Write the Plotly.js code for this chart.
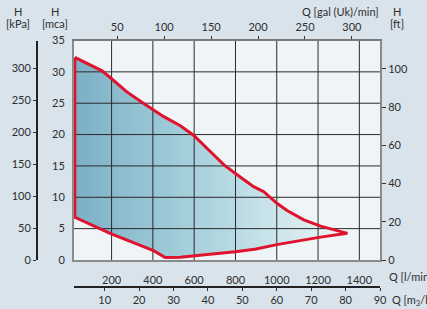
<!DOCTYPE html>
<html><head><meta charset="utf-8">
<script src="https://cdn.plot.ly/plotly-3.0.1.min.js"></script>
<style>html,body{margin:0;padding:0;background:#d8e3ec;}#c{width:427px;height:309px;}</style>
</head><body><div id="c"></div>
<script>
// Operating range outline (Q in l/min, H in mca): upper curve, then lower curve back, closed on the left edge
const Q_lmin = [22, 152, 193, 274, 354, 451, 533, 597, 678, 743, 808, 888, 937, 1002, 1050, 1131, 1212, 1342,
                1212, 1100, 1000, 900, 800, 700, 600, 532, 460, 403, 193, 22, 22];
const H_mca  = [32.3, 30.2, 29.1, 26.8, 25.0, 22.9, 21.4, 19.9, 17.3, 15.2, 13.6, 11.7, 10.9, 9.0, 7.9, 6.4, 5.4, 4.25,
                3.65, 3.05, 2.45, 1.75, 1.3, 1.0, 0.7, 0.45, 0.4, 1.48, 4.26, 6.8, 32.3];

const ticks_lmin = [200, 400, 600, 800, 1000, 1200, 1400];
const ticks_m3h  = [10, 20, 30, 40, 50, 60, 70, 80, 90];
const ticks_gal  = [50, 100, 150, 200, 250, 300];
const ticks_mca  = [0, 5, 10, 15, 20, 25, 30, 35];
const ticks_kpa  = [0, 50, 100, 150, 200, 250, 300];
const ticks_ft   = [0, 20, 40, 60, 80, 100];

const W = 427, Hh = 309;
const px = x => x / W, py = y => 1 - y / Hh;
const QMIN = 18, QMAX = 1500, HMAX = 35;
const GAL = 4.54609, KPA = 9.80665, FT = 3.28084;

// grid segments from tick arrays
const gx = [], gy = [];
ticks_lmin.forEach(v => { gx.push(v, v, null); gy.push(0, HMAX, null); });
ticks_mca.slice(1, -1).forEach(v => { gx.push(QMIN, QMAX, null); gy.push(v, v, null); });

const font = {family: 'Lato, "Noto Sans", sans-serif', size: 11, color: '#2e2e2e'};

const dummy = (xa, ya) => ({x: [null], y: [null], xaxis: xa, yaxis: ya, mode: 'markers', hoverinfo: 'skip', showlegend: false});

const traces = [
  {x: Q_lmin, y: H_mca, mode: 'none', fill: 'toself',
   fillgradient: {type: 'horizontal', colorscale: [[0, '#7cafc5'], [0.45, '#a8d2dd'], [1, '#eef5f7']]},
   hoverinfo: 'skip', showlegend: false},
  {x: gx, y: gy, mode: 'lines', line: {color: '#2a2a2a', width: 1}, hoverinfo: 'skip', showlegend: false},
  {x: Q_lmin, y: H_mca, mode: 'lines', line: {color: '#e0132e', width: 3}, hoverinfo: 'skip', showlegend: false},
  dummy('x2', 'y'), dummy('x3', 'y'), dummy('x', 'y2'), dummy('x', 'y3')
];

const xd = [px(74), px(380)], yd = [py(260), py(40.5)];
const ann = (t, x, y, xa) => ({text: t, x: px(x), y: py(y), xref: 'paper', yref: 'paper', xanchor: xa || 'center', yanchor: 'middle', showarrow: false, font: font});

const layout = {
  width: W, height: Hh, margin: {l: 0, r: 0, t: 0, b: 0},
  paper_bgcolor: '#d8e3ec', plot_bgcolor: '#eff4f7', font: font, showlegend: false,
  xaxis: {domain: xd, range: [QMIN, QMAX], tickvals: ticks_lmin, showgrid: false, zeroline: false,
          showline: true, linecolor: '#8a8a8a', linewidth: 2, ticks: 'outside', ticklen: 9, tickcolor: 'rgba(0,0,0,0)', anchor: 'y', tickfont: font},
  xaxis2: {overlaying: 'x', side: 'top', anchor: 'y', range: [QMIN / GAL, QMAX / GAL], tickvals: ticks_gal, showgrid: false, zeroline: false,
           showline: true, linecolor: '#7a7a7a', linewidth: 2, ticks: 'outside', ticklen: 3, tickcolor: '#333', tickfont: font},
  xaxis3: {overlaying: 'x', anchor: 'free', position: py(286), range: [QMIN * 0.06, QMAX * 0.06], tickvals: ticks_m3h, showgrid: false, zeroline: false,
           showline: true, linecolor: '#222', linewidth: 1.5, ticks: 'outside', ticklen: 3, tickcolor: '#333', tickfont: font},
  yaxis: {domain: yd, range: [0, HMAX], tickvals: ticks_mca, showgrid: false, zeroline: false, anchor: 'x',
          showline: true, linecolor: '#8a8a8a', linewidth: 2, ticks: 'outside', ticklen: 5, tickcolor: 'rgba(0,0,0,0)', tickfont: font},
  yaxis2: {overlaying: 'y', anchor: 'free', position: px(36), side: 'left', range: [0, HMAX * KPA], tickvals: ticks_kpa, showgrid: false, zeroline: false,
           showline: true, linecolor: '#222', linewidth: 1.5, ticks: 'outside', ticklen: 3, tickcolor: '#333', tickfont: font},
  yaxis3: {overlaying: 'y', anchor: 'x', side: 'right', range: [0, HMAX * FT], tickvals: ticks_ft, showgrid: false, zeroline: false,
           showline: true, linecolor: '#8a8a8a', linewidth: 2, ticks: 'outside', ticklen: 4, tickcolor: '#333', tickfont: font},
  annotations: [
    ann('H', 18, 12), ann('[kPa]', 18, 24),
    ann('H', 55, 12), ann('[mca]', 55, 24),
    ann('Q [gal (Uk)/min]', 381, 12, 'right'),
    ann('H', 397, 12), ann('[ft]', 397, 24),
    ann('Q [l/min]', 387, 276, 'left'),
    ann('Q [m<sub>3</sub>/h]', 390, 300, 'left')
  ]
};

Plotly.newPlot('c', traces, layout, {staticPlot: true, displayModeBar: false});
</script></body></html>
